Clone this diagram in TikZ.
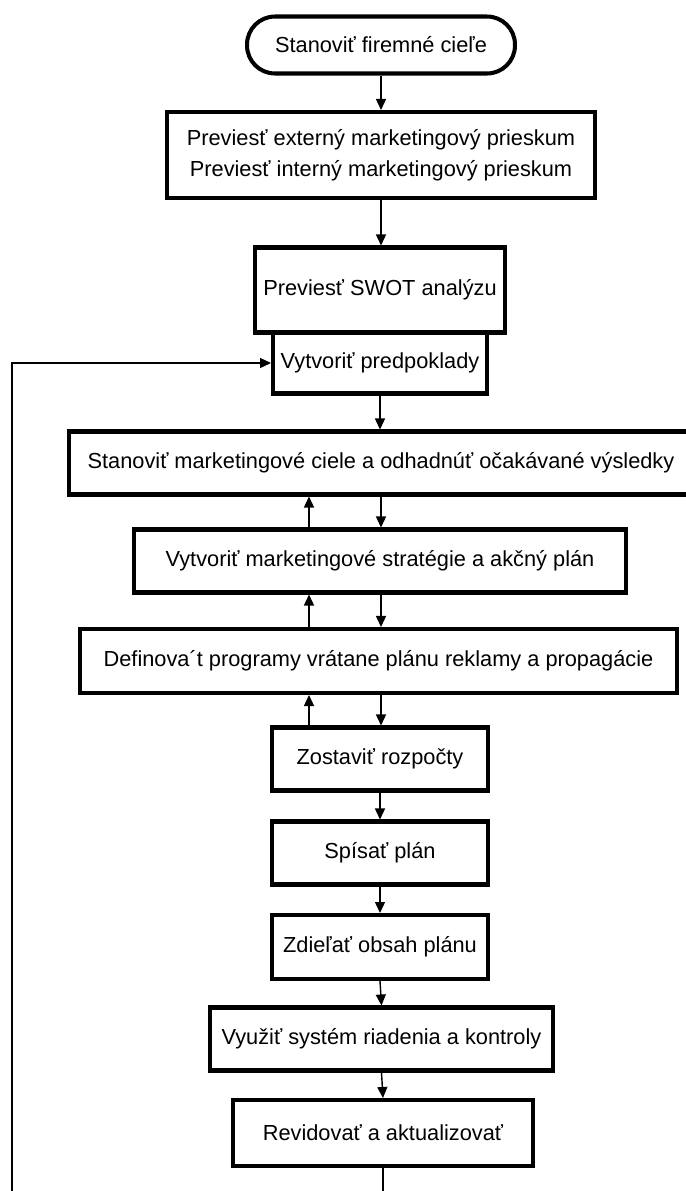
\documentclass[tikz,border=0pt]{standalone}
\usepackage{fontspec}
\setmainfont{Liberation Sans}
\usetikzlibrary{arrows.meta}

\begin{document}
\begin{tikzpicture}[x=0.02cm,y=-0.02cm,
  box/.style={draw,line width=2.3pt,fill=white,align=center,inner sep=2pt,
    font=\fontsize{12.4}{17.5}\selectfont},
  flow/.style={line width=0.8pt,-{Triangle[length=0.22cm,width=0.2cm]}}]
  \path[use as bounding box,clip] (0,0) rectangle (686,1191);
  \coordinate (upcol) at (309,0);
  \coordinate (downcol) at (381,0);
  \coordinate (loopcorner) at (12,1240);
  % Goals, research and analysis
  \node[box,rounded corners=0.56cm,minimum width=5.36cm,minimum height=1.14cm] (start) at (381,45) {Stanoviť firemné cieľe};
  \node[box,minimum width=8.56cm,minimum height=1.72cm] (research) at (381,155) {Previesť externý marketingový prieskum\\Previesť interný marketingový prieskum};
  \node[box,minimum width=5.02cm,minimum height=1.70cm] (swot) at (380,290) {Previesť SWOT analýzu};
  \node[box,minimum width=4.28cm,minimum height=1.22cm] (assume) at (380,363) {Vytvoriť predpoklady};
  % Marketing plan
  \node[box,minimum width=12.48cm,minimum height=1.26cm] (goals) at (381,463) {Stanoviť marketingové ciele a odhadnúť očakávané výsledky};
  \node[box,minimum width=9.84cm,minimum height=1.26cm] (strat) at (380,561) {Vytvoriť marketingové stratégie a akčný plán};
  \node[box,minimum width=11.94cm,minimum height=1.28cm] (progs) at (378.5,661) {Definova´t programy vrátane plánu reklamy a propagácie};
  \node[box,minimum width=4.32cm,minimum height=1.26cm] (budget) at (380,759) {Zostaviť rozpočty};
  \node[box,minimum width=4.32cm,minimum height=1.26cm] (write) at (380,853) {Spísať plán};
  \node[box,minimum width=4.32cm,minimum height=1.28cm] (share) at (380,947) {Zdieľať obsah plánu};
  % Control and review
  \node[box,minimum width=6.86cm,minimum height=1.26cm] (control) at (381.5,1039) {Využiť systém riadenia a kontroly};
  \node[box,minimum width=6.0cm,minimum height=1.32cm] (review) at (383,1133) {Revidovať a aktualizovať};
  % Connectors
  \draw[flow] (start.south) -- (start.south |- research.north);
  \draw[flow] (research.south) -- (research.south |- swot.north);
  \draw[flow] (assume.south) -- (assume.south |- goals.north);
  \draw[flow] (goals.south -| downcol) -- (strat.north -| downcol);
  \draw[flow] (strat.north -| upcol) -- (goals.south -| upcol);
  \draw[flow] (strat.south -| downcol) -- (progs.north -| downcol);
  \draw[flow] (progs.north -| upcol) -- (strat.south -| upcol);
  \draw[flow] (progs.south -| downcol) -- (budget.north -| downcol);
  \draw[flow] (budget.north -| upcol) -- (progs.south -| upcol);
  \draw[flow] (budget.south) -- (budget.south |- write.north);
  \draw[flow] (write.south) -- (write.south |- share.north);
  \draw[flow] (share.south) -- (control.north);
  \draw[flow] (control.south) -- (review.north);
  % Feedback loop
  \draw[flow] (review.south) |- (loopcorner) |- (assume.west);
\end{tikzpicture}
\end{document}
